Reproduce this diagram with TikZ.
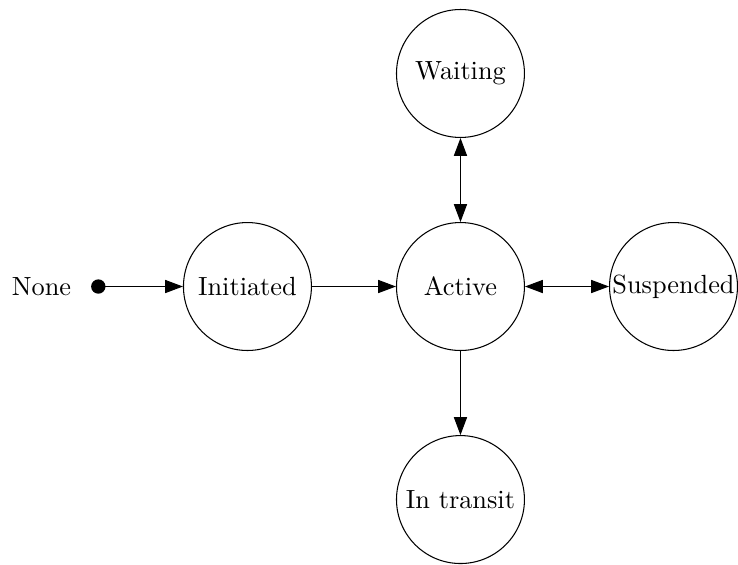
\documentclass[tikz,border=0pt]{standalone}
\usepackage{xcolor}
\usetikzlibrary{arrows.meta}
\usetikzlibrary{positioning}

\begin{document}
\begin{tikzpicture}[
    stnode/.style={circle, draw, inner sep=0pt, minimum size=1.71cm},
    onearr/.style={-{Triangle[length=6.8pt,width=5pt]}},
    twoarr/.style={{Triangle[length=6.8pt,width=5pt]}-{Triangle[length=6.8pt,width=5pt]}}
  ]
              \def\radius{0.096}
              \def\ulen{2.847}
              \useasboundingbox (-6.154,-3.709) rectangle (3.709,3.829);

              \node[stnode] (active) at (0,0) {Active};
              \node[stnode] (initiated) at (-\ulen,0) {Initiated};
              \node[stnode] (waiting) at (0,\ulen) {Waiting};
              \node[stnode] (suspended) at (\ulen,0) {Suspended};
              \node[stnode] (transit) at (0,-\ulen) {In transit};

              \fill (-4.84,0) coordinate(start) circle (\radius);
              \node[left=0.24cm of start] (none) {None};

              \draw[onearr] (start)--(initiated);
              \draw[onearr] (initiated)--(active);
              \draw[twoarr] (active)--(waiting);
              \draw[twoarr] (active)--(suspended);
              \draw[onearr] (active)--(transit);
            \end{tikzpicture}
\end{document}
